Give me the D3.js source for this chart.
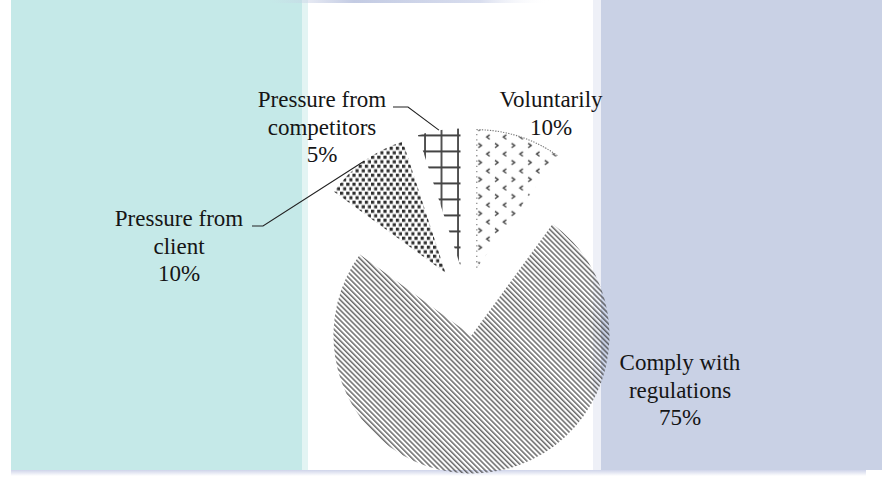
<!DOCTYPE html>
<html>
<head>
<meta charset="utf-8">
<script src="https://cdn.jsdelivr.net/npm/d3@7"></script>
<style>
  html, body { margin: 0; padding: 0; background: #ffffff; }
  svg { display: block; }
</style>
</head>
<body>
<svg id="chart" width="882" height="478"></svg>
<script>
// Reasons for adopting the practice, share of respondents (%)
const categories = ["Voluntarily", "Comply with regulations", "Pressure from client", "Pressure from competitors"];
const shares = [10, 75, 10, 5];
const labelLines = [
  ["Voluntarily", "10%"],
  ["Comply with", "regulations", "75%"],
  ["Pressure from", "client", "10%"],
  ["Pressure from", "competitors", "5%"]
];
const percentSuffix = "%";

const svg = d3.select("#chart");
const W = 882, H = 478;

// ---- background panels ----
const bg = svg.append("g");
bg.append("rect").attr("x", 0).attr("y", 0).attr("width", W).attr("height", H).attr("fill", "#ffffff");
bg.append("rect").attr("x", 11).attr("y", 0).attr("width", 291).attr("height", 470).attr("fill", "#c5e9e8");
bg.append("rect").attr("x", 302).attr("y", 0).attr("width", 6).attr("height", 470).attr("fill", "#e3f4f3");
bg.append("rect").attr("x", 593).attr("y", 0).attr("width", 8).attr("height", 470).attr("fill", "#eef0f7");
bg.append("rect").attr("x", 601).attr("y", 0).attr("width", W - 601).attr("height", 470).attr("fill", "#c9d1e5");

const defs = svg.append("defs");
const topGrad = defs.append("linearGradient").attr("id", "topband");
topGrad.append("stop").attr("offset", "0%").attr("stop-color", "#c9d1e5").attr("stop-opacity", 0);
topGrad.append("stop").attr("offset", "30%").attr("stop-color", "#c3cbe3").attr("stop-opacity", 1);
topGrad.append("stop").attr("offset", "75%").attr("stop-color", "#d8ddee").attr("stop-opacity", 1);
topGrad.append("stop").attr("offset", "100%").attr("stop-color", "#ffffff").attr("stop-opacity", 0);
bg.append("rect").attr("x", 270).attr("y", 0).attr("width", 280).attr("height", 3).attr("fill", "url(#topband)");

const botGrad = defs.append("linearGradient").attr("id", "botband").attr("x1", 0).attr("y1", 0).attr("x2", 0).attr("y2", 1);
botGrad.append("stop").attr("offset", "0%").attr("stop-color", "#cfd4ea");
botGrad.append("stop").attr("offset", "100%").attr("stop-color", "#ffffff");
bg.append("rect").attr("x", 11).attr("y", 470).attr("width", 855).attr("height", 6).attr("fill", "url(#botband)");

// ---- fill patterns ----
// fine diagonal hatch
const hatch = defs.append("pattern").attr("id", "pat-hatch")
  .attr("patternUnits", "userSpaceOnUse").attr("width", 3.6).attr("height", 3.6)
  .attr("patternTransform", "rotate(-45)");
hatch.append("line").attr("x1", 0.8).attr("y1", -1).attr("x2", 0.8).attr("y2", 5)
  .attr("stroke", "#3a3a3a").attr("stroke-width", 1.15);

// dense staggered squares
const dots = defs.append("pattern").attr("id", "pat-squares")
  .attr("patternUnits", "userSpaceOnUse").attr("width", 6.2).attr("height", 9);
dots.append("rect").attr("x", 0).attr("y", 0).attr("width", 3.2).attr("height", 3.2).attr("fill", "#2e2e2e");
dots.append("rect").attr("x", 3.1).attr("y", 4.5).attr("width", 3.2).attr("height", 3.2).attr("fill", "#2e2e2e");

// large grid
const grid = defs.append("pattern").attr("id", "pat-grid")
  .attr("patternUnits", "userSpaceOnUse").attr("width", 16.5).attr("height", 16)
  .attr("x", 13).attr("y", 12);
grid.append("line").attr("x1", 0).attr("y1", 1).attr("x2", 16.5).attr("y2", 1)
  .attr("stroke", "#444").attr("stroke-width", 2);
grid.append("line").attr("x1", 1).attr("y1", 0).attr("x2", 1).attr("y2", 16)
  .attr("stroke", "#444").attr("stroke-width", 1.8);

// small chevrons
const chev = defs.append("pattern").attr("id", "pat-chevron")
  .attr("patternUnits", "userSpaceOnUse").attr("width", 16.6).attr("height", 17)
  .attr("x", 482).attr("y", 130);
chev.append("path").attr("d", "M1,0.6 L4,2.8 L1,5")
  .attr("fill", "none").attr("stroke", "#3f3f3f").attr("stroke-width", 1.4);
chev.append("path").attr("d", "M12.3,9.1 L9.3,11.3 L12.3,13.5")
  .attr("fill", "none").attr("stroke", "#3f3f3f").attr("stroke-width", 1.4);

const patterns = ["url(#pat-chevron)", "url(#pat-hatch)", "url(#pat-squares)", "url(#pat-grid)"];

// ---- exploded pie ----
const cx = 466, cy = 301, radius = 138, explode = 35;
const pie = d3.pie().sort(null).value(d => d)(shares);
const arc = d3.arc().innerRadius(0).outerRadius(radius);

const slices = svg.append("g");
pie.forEach((p, i) => {
  const mid = (p.startAngle + p.endAngle) / 2;
  const ox = cx + explode * Math.sin(mid);
  const oy = cy - explode * Math.cos(mid);
  p.ox = ox; p.oy = oy; p.mid = mid;
  const path = slices.append("path")
    .attr("transform", `translate(${ox},${oy})`)
    .attr("d", arc(p))
    .attr("fill", patterns[i]);
  if (i === 0) {
    // dotted edge along the leading radius and the arc
    const outline = d3.arc().innerRadius(0).outerRadius(radius);
    slices.append("path")
      .attr("transform", `translate(${ox},${oy})`)
      .attr("d", `M0,0L0,${-radius}` + d3.arc().innerRadius(radius).outerRadius(radius)({ startAngle: p.startAngle, endAngle: p.endAngle }).split("Z")[0].replace(/^M[^A]*/, ""))
      .attr("fill", "none").attr("stroke", "#777").attr("stroke-width", 1.1).attr("stroke-dasharray", "1.3 4");
  }
});

// ---- labels ----
const font = "'Liberation Serif', 'Times New Roman', serif";
const labelPos = [
  { x: 551, y: 107 },
  { x: 680, y: 370 },
  { x: 179, y: 226 },
  { x: 322, y: 107 }
];
const lineGap = 27.5;
const labels = svg.append("g").attr("font-family", font).attr("font-size", 23).attr("fill", "#151515");
labelLines.forEach((lines, i) => {
  const t = labels.append("text").attr("text-anchor", "middle");
  lines.forEach((ln, j) => {
    const txt = j === lines.length - 1 ? shares[i] + percentSuffix : ln;
    t.append("tspan").attr("x", labelPos[i].x).attr("y", labelPos[i].y + j * lineGap).text(txt);
  });
});

// leader lines for the two small slices on the left
const leaders = [
  { i: 2, x0: 252, x1: 263, y: 226 },
  { i: 3, x0: 393, x1: 408, y: 107 }
];
leaders.forEach(l => {
  const p = pie[l.i];
  const ex = p.ox + radius * Math.sin(p.mid);
  const ey = p.oy - radius * Math.cos(p.mid);
  svg.append("path")
    .attr("d", `M${l.x0},${l.y}L${l.x1},${l.y}L${ex},${ey}`)
    .attr("fill", "none").attr("stroke", "#222").attr("stroke-width", 1.1);
});
</script>
</body>
</html>
